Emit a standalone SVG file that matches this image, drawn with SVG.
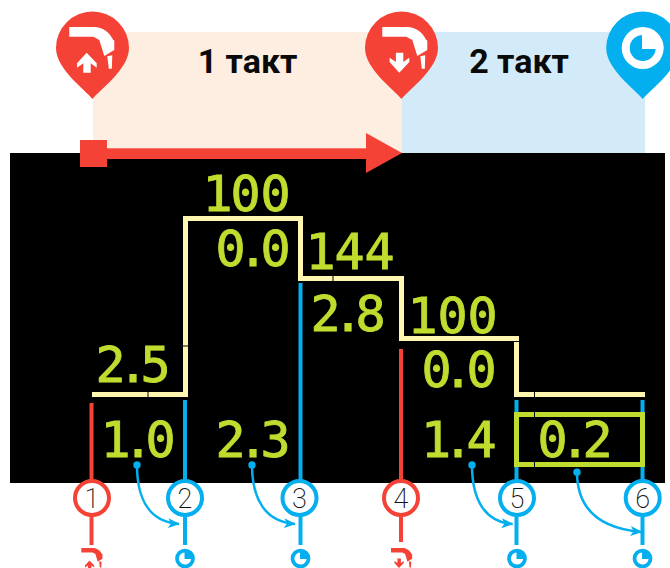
<svg xmlns="http://www.w3.org/2000/svg" width="670" height="568" viewBox="0 0 670 568">
<style>
.lcd{font-family:"DejaVu Sans Mono","Liberation Mono",monospace;font-size:50px;font-weight:400;fill:#c0dc2e;stroke:#c0dc2e;stroke-width:.9}
.head{font-family:Roboto,"Liberation Sans",sans-serif;font-size:34px;font-weight:700;fill:#0a0a0a;text-anchor:middle}
.num{font-family:Roboto,"Liberation Sans",sans-serif;font-size:27px;font-weight:200;fill:#111;text-anchor:middle}
.r{stroke:#f44336}.b{stroke:#03afef}
.v{fill:none;stroke-width:4}
.ring{fill:#fff;stroke-width:4}
.step{fill:none;stroke:#fff7b0;stroke-width:5}
.frame{fill:none;stroke:#c0dc2e;stroke-width:5}
.gap{stroke:#000;stroke-width:1;fill:none}
.curve{fill:none;stroke:#03afef;stroke-width:2.5;marker-end:url(#ah)}
.dot{fill:#03afef}
</style>
<defs>
<marker id="ah" viewBox="0 0 12 10" refX="11" refY="5" markerWidth="12" markerHeight="10" markerUnits="userSpaceOnUse" orient="auto"><path d="M0 0L12 5L0 10L3 5Z" fill="#03afef"/></marker>
<path id="pin" d="M0 51C-8 41-36.500 21-36.500 0A36.500 36.500 0 0 1 36.500 0C36.500 21 8 41 0 51Z"/>
<path id="torch" d="M0 0H25C33 0 40 5 44 13L45 13.500V23L35 29L30 13L24 9.700H0ZM38 29.300L43 28.300L42.500 41.700L39.500 41.700Z" fill="currentColor"/>
<path id="up" d="M0 0L10 10.600V15L4 10.600V20H-3.400V10.600L-9.700 15V10.600Z" fill="currentColor"/>
<path id="clock" fill-rule="evenodd" d="M0-21A21 21 0 1 1 0 21A21 21 0 1 1 0-21ZM-1-13A13 13 0 1 0 13 1H-1Z"/>
</defs>
<g id="bands">
<rect x="93" y="32" width="309" height="121" fill="#feeee2"/>
<rect x="402" y="32" width="243" height="121" fill="#d3eaf8"/>
</g>
<rect id="screen" x="10" y="153" width="655" height="330" fill="#000"/>
<g id="labels">
<text class="head" x="247.500" y="72.500">1 такт</text>
<text class="head" x="519" y="72.500">2 такт</text>
</g>
<g id="pin-start"><use href="#pin" x="92.500" y="48" fill="#f44336"/>
<use href="#torch" x="69.300" y="27" color="#fff"/><use href="#up" x="86.700" y="52.700" color="#fff"/></g>
<g id="pin-mid"><use href="#pin" x="401.500" y="48" fill="#f44336"/>
<use href="#torch" x="382.300" y="27" color="#fff"/><use href="#up" transform="translate(399.300 72.700) scale(1 -1)" color="#fff"/></g>
<g id="pin-end"><use href="#pin" x="642.700" y="48" fill="#03afef"/>
<circle cx="642.700" cy="48" r="21" fill="#fff"/><circle cx="642.700" cy="48" r="13" fill="#03afef"/><path d="M642 34V49H657V34Z" fill="#fff"/></g>
<g id="direction" fill="#f44336">
<rect x="80" y="140" width="27" height="27"/>
<rect x="107" y="148.300" width="260" height="10.700"/>
<path d="M366 133L402 153L366 173Z"/>
</g>
<g id="connectors">
<path class="v r" d="M91.500 403V480M401 349V480"/>
<path class="v b" d="M185 400V480M300.500 283V480M516.500 400V480M642.500 400V480"/>
<path class="v r" d="M91.500 516V545M401 516V542"/>
<path class="v b" d="M185 516V545M300.500 516V545M516.500 516V545M642.500 516V545"/>
<path class="curve" d="M137 465C137 500 150 522 179 524"/>
<path class="curve" d="M252 465C252 500 266 522 295 524"/>
<path class="curve" d="M472 465C472 500 485 522 512.500 524"/>
<path class="curve" d="M577 472C577 505 595 528 641.500 532"/>
</g>
<g id="dots"><circle class="dot" cx="137" cy="465" r="3.700"/><circle class="dot" cx="252" cy="465" r="3.700"/><circle class="dot" cx="472" cy="465" r="3.700"/><circle class="dot" cx="577" cy="472.300" r="3.700"/></g>
<g id="curve-steps">
<path class="step" d="M92 394.500H185.500V218.500H300.500V278.500H401.500V338.500H516.500V394.500H645"/>
<rect class="frame" x="516.500" y="414.500" width="126" height="50"/>
<path class="gap" d="M148 391V398M183 346H189M333 275V282M534.500 391V398M534.500 411V418M534.500 461V468M513 341.500H520"/>
</g>
<g id="values">
<text class="lcd" x="202.500 230.500 260.500" y="211">100</text>
<text class="lcd" x="215.500 238 260.500" y="266">0.0</text>
<text class="lcd" x="305.500 334.500 364.500" y="269">144</text>
<text class="lcd" x="310.500 333 355.500" y="331">2.8</text>
<text class="lcd" x="407.500 437.500 467.500" y="333">100</text>
<text class="lcd" x="95.500 118 140.500" y="382">2.5</text>
<text class="lcd" x="421.500 443 466.500" y="386.500">0.0</text>
<text class="lcd" x="100.500 123 145.500" y="457">1.0</text>
<text class="lcd" x="215.500 238 260.500" y="457">2.3</text>
<text class="lcd" x="421 443 466.500" y="457">1.4</text>
<text class="lcd" x="537.500 560 582.500" y="457">0.2</text>
</g>
<g id="step-1"><circle class="ring r" cx="92" cy="498" r="17"/><text class="num" x="92" y="507.500">1</text></g>
<g id="step-2"><circle class="ring b" cx="185" cy="498" r="17"/><text class="num" x="185" y="507.500">2</text></g>
<g id="step-3"><circle class="ring b" cx="299.500" cy="498" r="17"/><text class="num" x="299.500" y="507.500">3</text></g>
<g id="step-4"><circle class="ring r" cx="401" cy="498" r="17"/><text class="num" x="401" y="507.500">4</text></g>
<g id="step-5"><circle class="ring b" cx="517" cy="498" r="17"/><text class="num" x="517" y="507.500">5</text></g>
<g id="step-6"><circle class="ring b" cx="642.700" cy="498" r="17"/><text class="num" x="642.700" y="507.500">6</text></g>
<g id="icon-1" color="#f44336"><use href="#torch" transform="translate(81.300 548) scale(.47)"/><use href="#up" transform="translate(89.500 560.500) scale(.47)"/></g>
<g id="icon-4" color="#f44336"><use href="#torch" transform="translate(391 548) scale(.47)"/><use href="#up" transform="translate(399 568) scale(.47 -.47)"/></g>
<g id="icon-clocks" fill="#03afef">
<use href="#clock" transform="translate(185 558.500) scale(.47)"/>
<use href="#clock" transform="translate(300.500 558.500) scale(.47)"/>
<use href="#clock" transform="translate(517 558.500) scale(.47)"/>
<use href="#clock" transform="translate(642.500 558.500) scale(.47)"/>
</g>
</svg>
